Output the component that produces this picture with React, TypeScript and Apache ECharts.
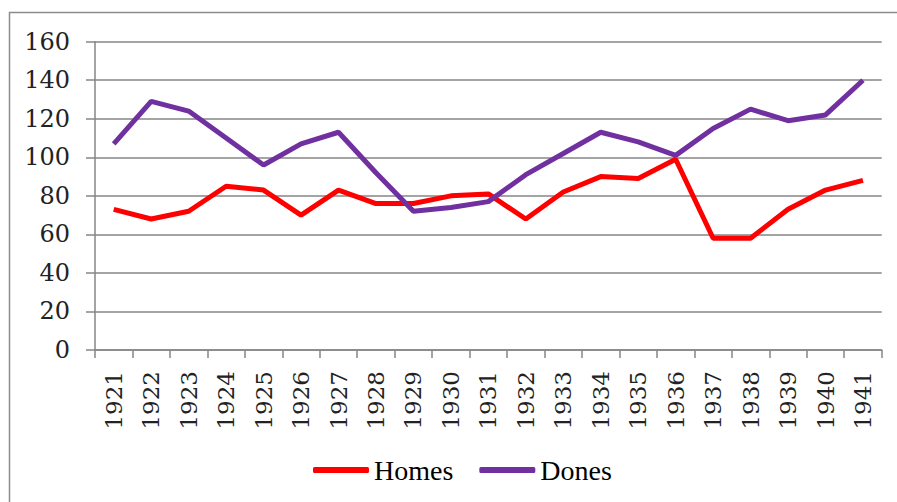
import React, { useEffect, useRef } from "react";
import * as echarts from "echarts";

const years = ["1921","1922","1923","1924","1925","1926","1927","1928","1929","1930","1931","1932","1933","1934","1935","1936","1937","1938","1939","1940","1941"];
const homes = [73, 68, 72, 85, 83, 70, 83, 76, 76, 80, 81, 68, 82, 90, 89, 99, 58, 58, 73, 83, 88];
const dones = [107, 129, 124, 110, 96, 107, 113, 92, 72, 74, 77, 91, 102, 113, 108, 101, 115, 125, 119, 122, 140];

const FONT = "Liberation Serif";
const AXISFONT = "DejaVu Serif";

export default function App() {
  const ref = useRef<HTMLDivElement>(null);
  useEffect(() => {
    if (!ref.current) return;
    const chart = echarts.init(ref.current, null, { renderer: "svg" });
    chart.setOption({
      animation: false,
      backgroundColor: "#ffffff",
      textStyle: { fontFamily: FONT, color: "#000000" },
      graphic: [
        {
          type: "rect",
          shape: { x: 9.5, y: 12.5, width: 900, height: 500 },
          style: { fill: "none", stroke: "#8c8c8c", lineWidth: 1.5 },
          silent: true,
        },
      ],
      grid: { left: 95, top: 41.7, right: 15.3, bottom: 152, containLabel: false },
      legend: {
        data: ["Homes", "Dones"],
        left: 308,
        top: 451,
        icon: "roundRect",
        itemWidth: 56,
        itemHeight: 6,
        itemGap: 26,
        textStyle: { fontFamily: FONT, fontSize: 28, color: "#000000" },
      },
      xAxis: [{
        type: "category",
        data: years,
        boundaryGap: true,
        axisLine: { show: true, lineStyle: { color: "#868686", width: 1.5 } },
        axisTick: { show: true, length: 8, alignWithLabel: false, lineStyle: { color: "#868686", width: 1.5 } },
        axisLabel: {
          show: true,
          rotate: 90,
          interval: 0,
          margin: 21,
          fontFamily: AXISFONT,
          fontSize: 23,
          color: "#222222",
        },
        splitLine: { show: false },
      }],
      yAxis: [{
        type: "value",
        min: 0,
        max: 160,
        interval: 20,
        axisLine: { show: true, lineStyle: { color: "#868686", width: 1.5 } },
        axisTick: { show: true, length: 9, lineStyle: { color: "#868686", width: 1.5 } },
        axisLabel: {
          show: true,
          margin: 25,
          fontFamily: AXISFONT,
          fontSize: 24,
          color: "#222222",
        },
        splitLine: { show: true, lineStyle: { color: "#868686", width: 1.5 } },
      }],
      series: [
        {
          name: "Homes",
          type: "line",
          data: homes,
          symbol: "none",
          lineStyle: { color: "#ff0000", width: 5 },
          itemStyle: { color: "#ff0000" },
        },
        {
          name: "Dones",
          type: "line",
          data: dones,
          symbol: "none",
          lineStyle: { color: "#7030a0", width: 5 },
          itemStyle: { color: "#7030a0" },
        },
      ],
    });
    return () => chart.dispose();
  }, []);
  return (
    <div
      ref={ref}
      style={{ position: "fixed", left: 0, top: 0, width: 897, height: 502 }}
    />
  );
}
